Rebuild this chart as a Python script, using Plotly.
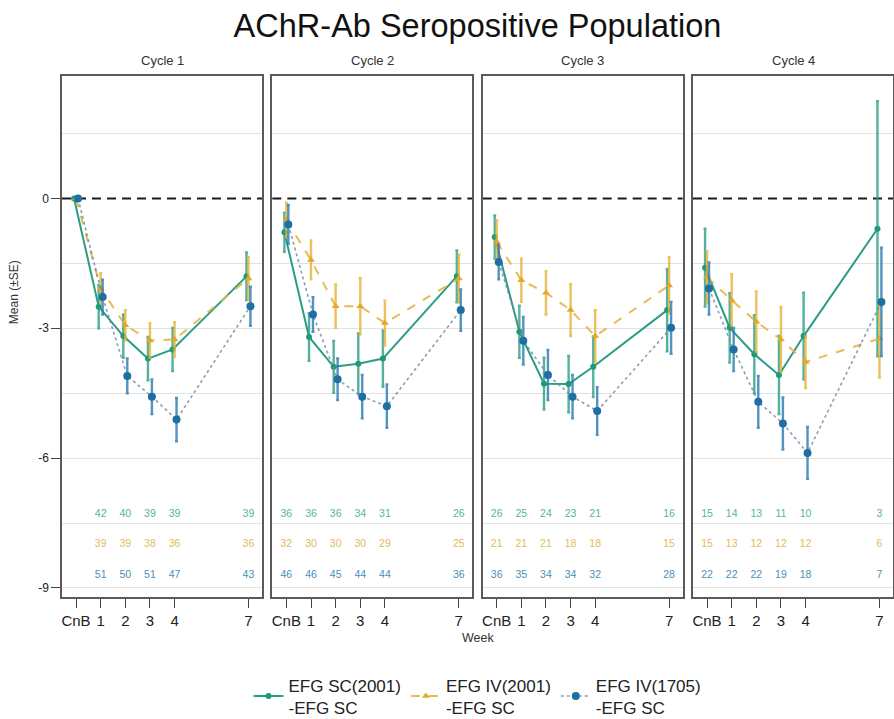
import plotly.graph_objects as go

# ---- data -------------------------------------------------------------
title_text = "AChR-Ab Seropositive Population"
cycles = ["Cycle 1", "Cycle 2", "Cycle 3", "Cycle 4"]
weeks = [0, 1, 2, 3, 4, 7]
week_labels = ["CnB", "1", "2", "3", "4", "7"]
y_ticks = [-9, -6, -3, 0]
y_tick_labels = ["-9", "-6", "-3", "0"]
series_names = ["EFG SC(2001)<br>-EFG SC", "EFG IV(2001)<br>-EFG SC", "EFG IV(1705)<br>-EFG SC"]

# mean change from baseline, one list per cycle
sc2001_mean = [
    [0, -2.50, -3.18, -3.70, -3.49, -1.80],
    [-0.78, -3.20, -3.89, -3.82, -3.70, -1.80],
    [-0.89, -3.08, -4.28, -4.29, -3.89, -2.58],
    [-1.60, -2.99, -3.60, -4.08, -3.18, -0.70],
]
sc2001_se = [
    [0, 0.50, 0.50, 0.50, 0.50, 0.55],
    [0.45, 0.55, 0.60, 0.70, 0.65, 0.60],
    [0.50, 0.60, 0.60, 0.65, 0.70, 0.95],
    [0.90, 0.80, 0.90, 0.90, 1.00, 2.95],
]
iv2001_mean = [
    [0, -2.08, -2.93, -3.28, -3.26, -1.85],
    [-0.50, -1.42, -2.49, -2.49, -2.88, -1.85],
    [-1.00, -1.89, -2.18, -2.58, -3.18, -2.01],
    [-1.82, -2.35, -2.85, -3.26, -3.78, -3.24],
]
iv2001_se = [
    [0, 0.35, 0.35, 0.40, 0.40, 0.50],
    [0.40, 0.45, 0.50, 0.65, 0.52, 0.55],
    [0.50, 0.50, 0.50, 0.60, 0.60, 0.65],
    [0.60, 0.60, 0.70, 0.75, 0.60, 0.90],
]
iv1705_mean = [
    [0, -2.28, -4.10, -4.58, -5.11, -2.49],
    [-0.60, -2.68, -4.18, -4.58, -4.80, -2.58],
    [-1.47, -3.29, -4.08, -4.58, -4.91, -2.99],
    [-2.08, -3.49, -4.70, -5.20, -5.88, -2.39],
]
iv1705_se = [
    [0, 0.40, 0.40, 0.40, 0.50, 0.45],
    [0.45, 0.40, 0.48, 0.50, 0.50, 0.48],
    [0.40, 0.55, 0.58, 0.50, 0.55, 0.60],
    [0.60, 0.50, 0.60, 0.60, 0.60, 1.25],
]

# number of patients contributing at each visit
sc2001_n = [
    [None, 42, 40, 39, 39, 39],
    [36, 36, 36, 34, 31, 26],
    [26, 25, 24, 23, 21, 16],
    [15, 14, 13, 11, 10, 3],
]
iv2001_n = [
    [None, 39, 39, 38, 36, 36],
    [32, 30, 30, 30, 29, 25],
    [21, 21, 21, 18, 18, 15],
    [15, 13, 12, 12, 12, 6],
]
iv1705_n = [
    [None, 51, 50, 51, 47, 43],
    [46, 46, 45, 44, 44, 36],
    [36, 35, 34, 34, 32, 28],
    [22, 22, 22, 19, 18, 7],
]

# ---- styling ----------------------------------------------------------
FONT = "Liberation Sans, Arial, sans-serif"
series_style = [
    dict(mean=sc2001_mean, se=sc2001_se, n=sc2001_n, dodge=-0.08,
         line=dict(color="#2a9d86", width=2, dash="solid"),
         marker=dict(symbol="circle", size=6, color="#1f9a78"),
         err="rgba(42,157,134,0.8)", ncolor="#55b3a4", ny=-7.3),
    dict(mean=iv2001_mean, se=iv2001_se, n=iv2001_n, dodge=0.0,
         line=dict(color="rgba(228,180,70,0.9)", width=2, dash="dash"),
         marker=dict(symbol="triangle-up", size=7, color="#e0a92a"),
         err="rgba(230,178,50,0.8)", ncolor="#e2bb58", ny=-8.0),
    dict(mean=iv1705_mean, se=iv1705_se, n=iv1705_n, dodge=0.08,
         line=dict(color="rgba(110,135,160,0.8)", width=1.6, dash="dot"),
         marker=dict(symbol="circle", size=8, color="#1f6fa5"),
         err="rgba(40,120,175,0.8)", ncolor="#4a8fb8", ny=-8.7),
]

fig = go.Figure()

W, H = 894, 719
L, R, T, B = 62, 1, 76, 122
plot_w = W - L - R
plot_h = H - T - B
panel_w = 200
gap = (plot_w - 4 * panel_w) / 3

for c in range(4):
    ax = "" if c == 0 else str(c + 1)
    for s_i, st in enumerate(series_style):
        xs = [w + st["dodge"] for w in weeks]
        fig.add_trace(go.Scatter(
            x=xs, y=st["mean"][c],
            error_y=dict(type="data", array=st["se"][c], color=st["err"],
                         thickness=2.4, width=1.5),
            mode="lines+markers", line=st["line"], marker=st["marker"],
            name=series_names[s_i], legendgroup=str(s_i),
            showlegend=(c == 0),
            xaxis="x" + ax, yaxis="y" + ax,
        ))
    # patient counts
    for st in series_style:
        pts = [(w, n) for w, n in zip(weeks, st["n"][c]) if n is not None]
        fig.add_trace(go.Scatter(
            x=[p[0] for p in pts], y=[st["ny"]] * len(pts),
            text=[str(p[1]) for p in pts], mode="text",
            textfont=dict(family=FONT, size=10.5, color=st["ncolor"]),
            showlegend=False, hoverinfo="skip",
            xaxis="x" + ax, yaxis="y" + ax,
        ))

layout = dict(
    width=W, height=H,
    margin=dict(l=L, r=R, t=T, b=B, autoexpand=False),
    paper_bgcolor="white", plot_bgcolor="white",
    font=dict(family=FONT, color="#222"),
    title=dict(text=title_text, x=(L + plot_w / 2) / W, xanchor="center",
               y=1 - 26 / H, yanchor="middle",
               font=dict(size=32.5, family=FONT, color="#111")),
    legend=dict(orientation="h", x=0.5, xanchor="center", y=-0.135, yanchor="top",
                font=dict(size=17, family=FONT, color="#222"), valign="middle",
                bgcolor="rgba(0,0,0,0)", tracegroupgap=0),
    showlegend=True,
)

annotations = []
shapes = []
grid_vals = [-9, -7.5, -6, -4.5, -3, -1.5, 1.5]
for c in range(4):
    ax = "" if c == 0 else str(c + 1)
    x0 = (c * (panel_w + gap)) / plot_w
    x1 = (c * (panel_w + gap) + panel_w) / plot_w
    layout["xaxis" + ax] = dict(
        domain=[x0, x1], range=[-0.57, 7.55],
        tickvals=weeks, ticktext=week_labels, ticks="outside", ticklen=9,
        tickcolor="#444", tickwidth=1.2,
        tickfont=dict(size=15, family=FONT, color="#222"),
        showgrid=False, zeroline=False,
        showline=True, mirror=True, linecolor="#5a5a5a", linewidth=1.5,
        anchor="y" + ax,
    )
    ydict = dict(
        range=[-9.21, 2.83], tickvals=y_ticks, ticktext=y_tick_labels,
        showgrid=False, zeroline=False,
        minor=dict(tickvals=grid_vals, showgrid=True,
                   gridcolor="#e2e2e2", gridwidth=1.2, ticks=""),
        showline=True, mirror=True, linecolor="#5a5a5a", linewidth=1.5,
        anchor="x" + ax,
    )
    if c == 0:
        ydict.update(ticks="outside", ticklen=9, tickcolor="#444", tickwidth=1.2,
                     tickfont=dict(size=12, family=FONT, color="#222"))
    else:
        ydict.update(matches="y", showticklabels=False, ticks="")
    layout["yaxis" + ax] = ydict

    annotations.append(dict(
        text=cycles[c], x=(x0 + x1) / 2, y=1 + 16 / plot_h,
        xref="paper", yref="paper", showarrow=False,
        xanchor="center", yanchor="middle",
        font=dict(size=13, family=FONT, color="#333"),
    ))
    shapes.append(dict(
        type="line", xref="x" + ax + " domain", yref="y" + ax,
        x0=0, x1=1, y0=0, y1=0,
        line=dict(color="#1a1a1a", width=2, dash="9px,6px"), layer="below",
    ))

annotations.append(dict(
    text="Week", x=0.5, y=-(638 - (H - B)) / plot_h,
    xref="paper", yref="paper", showarrow=False,
    xanchor="center", yanchor="middle",
    font=dict(size=12.5, family=FONT, color="#333"),
))
annotations.append(dict(
    text="Mean (±SE)", x=-(L - 14) / plot_w, y=0.585,
    xref="paper", yref="paper", showarrow=False, textangle=-90,
    xanchor="center", yanchor="middle",
    font=dict(size=12, family=FONT, color="#333"),
))
layout["annotations"] = annotations
layout["shapes"] = shapes

fig.update_layout(**layout)
fig.write_html("out.html")
